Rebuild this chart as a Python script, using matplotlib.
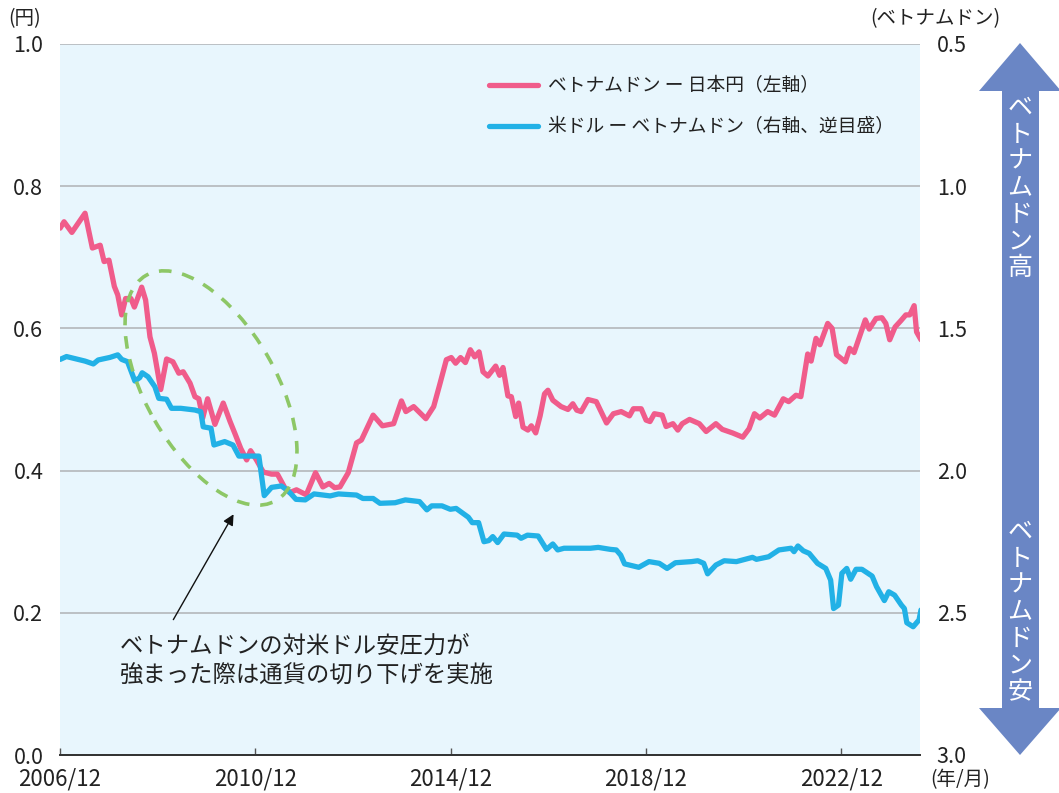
import matplotlib
matplotlib.use('Agg')
import matplotlib.pyplot as plt
from matplotlib.patches import Ellipse, Polygon

plt.rcParams['font.family'] = ['Noto Sans CJK JP', 'DejaVu Sans']

# ベトナムドン/日本円(左軸, 円) 年(小数)
t_jpy = [2006.92, 2007.00, 2007.16, 2007.43, 2007.58, 2007.74, 2007.82, 2007.92, 2008.03, 2008.10,
         2008.18, 2008.26, 2008.37, 2008.44, 2008.59, 2008.67, 2008.76, 2008.85, 2008.98, 2009.10,
         2009.23, 2009.35, 2009.44, 2009.58, 2009.68, 2009.76, 2009.84, 2009.94, 2010.09, 2010.26,
         2010.40, 2010.50, 2010.62, 2010.74, 2010.82, 2010.94, 2011.08, 2011.25, 2011.37, 2011.52,
         2011.62, 2011.76, 2011.96, 2012.15, 2012.30, 2012.43, 2012.54, 2012.65, 2012.82, 2012.99,
         2013.09, 2013.33, 2013.52, 2013.75, 2013.91, 2014.00, 2014.16, 2014.41, 2014.57, 2014.69,
         2014.83, 2014.93, 2015.02, 2015.12, 2015.22, 2015.32, 2015.41, 2015.50, 2015.58, 2015.68,
         2015.84, 2015.92, 2015.99, 2016.09, 2016.16, 2016.25, 2016.31, 2016.40, 2016.50, 2016.57,
         2016.66, 2016.75, 2016.84, 2016.91, 2017.01, 2017.18, 2017.32, 2017.42, 2017.50, 2017.59,
         2017.73, 2017.90, 2018.11, 2018.25, 2018.41, 2018.58, 2018.66, 2018.82, 2018.92, 2019.00,
         2019.09, 2019.25, 2019.33, 2019.47, 2019.57, 2019.66, 2019.81, 2020.01, 2020.15, 2020.35,
         2020.48, 2020.69, 2020.90, 2021.03, 2021.14, 2021.25, 2021.41, 2021.55, 2021.73, 2021.84,
         2021.99, 2022.09, 2022.23, 2022.30, 2022.40, 2022.48, 2022.64, 2022.73, 2022.82, 2023.00,
         2023.09, 2023.18, 2023.41, 2023.49, 2023.63, 2023.75, 2023.83, 2023.91, 2024.02, 2024.14,
         2024.24, 2024.32, 2024.41, 2024.46, 2024.55]
vnd_jpy = [0.741, 0.750, 0.735, 0.762, 0.713, 0.717, 0.694, 0.696, 0.659, 0.647,
           0.619, 0.642, 0.642, 0.630, 0.658, 0.640, 0.588, 0.565, 0.514, 0.557,
           0.553, 0.537, 0.539, 0.523, 0.504, 0.501, 0.474, 0.501, 0.465, 0.495,
           0.469, 0.452, 0.431, 0.415, 0.428, 0.415, 0.398, 0.395, 0.395, 0.376,
           0.369, 0.373, 0.366, 0.397, 0.377, 0.382, 0.376, 0.377, 0.397, 0.439,
           0.443, 0.478, 0.463, 0.466, 0.498, 0.483, 0.490, 0.473, 0.490, 0.520,
           0.556, 0.559, 0.551, 0.559, 0.552, 0.570, 0.560, 0.567, 0.539, 0.533,
           0.547, 0.534, 0.545, 0.505, 0.504, 0.476, 0.495, 0.461, 0.457, 0.463,
           0.453, 0.477, 0.508, 0.513, 0.499, 0.490, 0.486, 0.494, 0.485, 0.483,
           0.500, 0.497, 0.467, 0.480, 0.483, 0.477, 0.487, 0.487, 0.471, 0.469,
           0.480, 0.478, 0.462, 0.466, 0.457, 0.466, 0.472, 0.466, 0.455, 0.466,
           0.458, 0.453, 0.447, 0.459, 0.480, 0.474, 0.483, 0.478, 0.501, 0.497,
           0.506, 0.504, 0.564, 0.554, 0.586, 0.577, 0.607, 0.600, 0.563, 0.553,
           0.572, 0.566, 0.612, 0.599, 0.614, 0.615, 0.607, 0.584, 0.602, 0.611,
           0.619, 0.619, 0.632, 0.595, 0.584]

# 米ドル/ベトナムドン(右軸・逆目盛, 千ドン)
t_usd = [2006.92, 2007.05, 2007.43, 2007.60, 2007.70, 2007.94, 2008.10, 2008.18, 2008.30, 2008.45,
         2008.55, 2008.60, 2008.72, 2008.86, 2008.94, 2009.10, 2009.20, 2009.39, 2009.68, 2009.80,
         2009.85, 2010.01, 2010.07, 2010.29, 2010.46, 2010.58, 2010.80, 2010.99, 2011.10, 2011.25,
         2011.45, 2011.59, 2011.75, 2011.94, 2012.12, 2012.45, 2012.62, 2012.99, 2013.12, 2013.33,
         2013.47, 2013.78, 2013.99, 2014.28, 2014.43, 2014.53, 2014.74, 2014.91, 2015.03, 2015.28,
         2015.36, 2015.49, 2015.60, 2015.70, 2015.78, 2015.88, 2016.01, 2016.28, 2016.36, 2016.49,
         2016.71, 2016.88, 2017.01, 2017.11, 2017.24, 2017.78, 2017.94, 2018.19, 2018.31, 2018.40,
         2018.48, 2018.77, 2018.98, 2019.19, 2019.35, 2019.52, 2019.85, 2019.98, 2020.10, 2020.18,
         2020.35, 2020.52, 2020.77, 2021.10, 2021.18, 2021.43, 2021.64, 2021.89, 2021.95, 2022.03,
         2022.14, 2022.26, 2022.43, 2022.60, 2022.70, 2022.76, 2022.86, 2022.93, 2023.03, 2023.11,
         2023.22, 2023.34, 2023.55, 2023.64, 2023.80, 2023.89, 2024.01, 2024.15, 2024.21, 2024.26,
         2024.39, 2024.51, 2024.55]
usd_vnd = [1.609, 1.599, 1.615, 1.625, 1.611, 1.602, 1.593, 1.609, 1.617, 1.685,
           1.673, 1.656, 1.670, 1.705, 1.746, 1.749, 1.781, 1.781, 1.787, 1.793,
           1.846, 1.851, 1.910, 1.898, 1.910, 1.949, 1.949, 1.949, 2.088, 2.059,
           2.054, 2.071, 2.101, 2.103, 2.082, 2.089, 2.082, 2.086, 2.098, 2.098,
           2.115, 2.113, 2.103, 2.109, 2.138, 2.124, 2.124, 2.136, 2.133, 2.164,
           2.183, 2.183, 2.250, 2.246, 2.232, 2.253, 2.223, 2.227, 2.238, 2.227,
           2.230, 2.277, 2.258, 2.279, 2.273, 2.273, 2.270, 2.277, 2.279, 2.297,
           2.328, 2.340, 2.320, 2.326, 2.344, 2.324, 2.320, 2.317, 2.326, 2.363,
           2.332, 2.317, 2.320, 2.305, 2.312, 2.303, 2.279, 2.273, 2.285, 2.265,
           2.282, 2.291, 2.326, 2.344, 2.385, 2.485, 2.473, 2.361, 2.344, 2.382,
           2.347, 2.347, 2.371, 2.408, 2.457, 2.426, 2.438, 2.473, 2.485, 2.535,
           2.549, 2.525, 2.490]

x_ticks = [2006.917, 2010.917, 2014.917, 2018.917, 2022.917]
x_labels = ['2006/12', '2010/12', '2014/12', '2018/12', '2022/12']
left_ticks = [0.0, 0.2, 0.4, 0.6, 0.8, 1.0]
right_ticks = [0.5, 1.0, 1.5, 2.0, 2.5, 3.0]

pink = '#F05C8B'
blue = '#22B1E6'

W, H = 1059, 793
fig = plt.figure(figsize=(W / 100, H / 100), dpi=100)
ax = fig.add_axes([60 / W, 38 / H, 860 / W, 711 / H])
ax.set_facecolor('#E8F6FD')
ax2 = ax.twinx()
ax2.patch.set_visible(False)

l1, = ax.plot(t_jpy, vnd_jpy, color=pink, lw=3.8, solid_joinstyle='round',
              solid_capstyle='round', label='ベトナムドン ー 日本円（左軸）', zorder=3)
l2, = ax2.plot(t_usd, usd_vnd, color=blue, lw=3.8, solid_joinstyle='round',
               solid_capstyle='round', label='米ドル ー ベトナムドン（右軸、逆目盛）', zorder=3)

ax.set_xlim(2006.917, 2024.53)
ax.set_ylim(0, 1.0)
ax2.set_ylim(3.0, 0.5)

ax.set_xticks(x_ticks)
ax.set_xticklabels(x_labels)
ax.set_yticks(left_ticks)
ax.set_yticklabels([f'{v:.1f}' for v in left_ticks])
ax2.set_yticks(right_ticks)
ax2.set_yticklabels([f'{v:.1f}' for v in right_ticks])

ax.grid(axis='y', color='#B4B7BA', lw=1.2)
ax.set_axisbelow(True)
ax.tick_params(axis='x', direction='in', length=5, width=1, color='#555555',
               labelsize=16, pad=9, labelcolor='#222222')
ax.tick_params(axis='y', length=0, labelsize=15.5, pad=12, labelcolor='#222222')
ax2.tick_params(axis='y', length=0, labelsize=15.5, pad=12, labelcolor='#222222')
for a in (ax, ax2):
    for s in ('left', 'right', 'top'):
        a.spines[s].set_visible(False)
    a.spines['bottom'].set_color('#333333')
    a.spines['bottom'].set_linewidth(1.3)

fig.text(8 / W, 1 - 19 / H, '(円)', fontsize=14, ha='left', va='center', color='#222222')
fig.text(1000 / W, 1 - 19 / H, '(ベトナムドン)', fontsize=14, ha='right', va='center', color='#222222')
fig.text(960 / W, 1 - 780 / H, '(年/月)', fontsize=14, ha='center', va='center', color='#222222')

leg = ax.legend(handles=[l1, l2], loc='upper left', bbox_to_anchor=(480 / W, 1 - 66 / H),
                bbox_transform=fig.transFigure, frameon=False, fontsize=13.5,
                handlelength=2.6, handletextpad=0.5, labelspacing=1.05, borderpad=0)
for txt in leg.get_texts():
    txt.set_color('#222222')

# 切り下げの範囲を示す楕円
ell = Ellipse((211 / 100, (H - 388) / 100), 2.6, 1.3, angle=-60,
              transform=fig.dpi_scale_trans, fill=False, edgecolor='#8DC766',
              lw=2.6, linestyle=(0, (3.5, 3)), zorder=5)
fig.add_artist(ell)

ax.annotate('', xy=(2010.50, 0.342), xytext=(2009.21, 0.187),
            arrowprops=dict(arrowstyle='-|>', color='#111111', lw=1.0, mutation_scale=16))
ax.text(2008.14, 0.132, 'ベトナムドンの対米ドル安圧力が\n強まった際は通貨の切り下げを実施',
        fontsize=16.8, ha='left', va='center', linespacing=1.4, color='#222222')

# 右側の両矢印
def px(x, y):
    return (x / 100, (H - y) / 100)

arrow_pts = [px(1020, 43), px(1061, 91), px(1039, 91), px(1039, 708), px(1061, 708),
             px(1020, 755), px(979, 708), px(1002, 708), px(1002, 91), px(979, 91)]
fig.add_artist(Polygon(arrow_pts, closed=True, transform=fig.dpi_scale_trans,
                       facecolor='#6A86C5', edgecolor='none'))
fig.text(1020 / W, 1 - 188 / H, '\n'.join('ベトナムドン高'), fontsize=18, color='white',
         ha='center', va='center', linespacing=1.03)
fig.text(1020 / W, 1 - 612 / H, '\n'.join('ベトナムドン安'), fontsize=18, color='white',
         ha='center', va='center', linespacing=1.03)

fig.savefig('out.png', dpi=100)
